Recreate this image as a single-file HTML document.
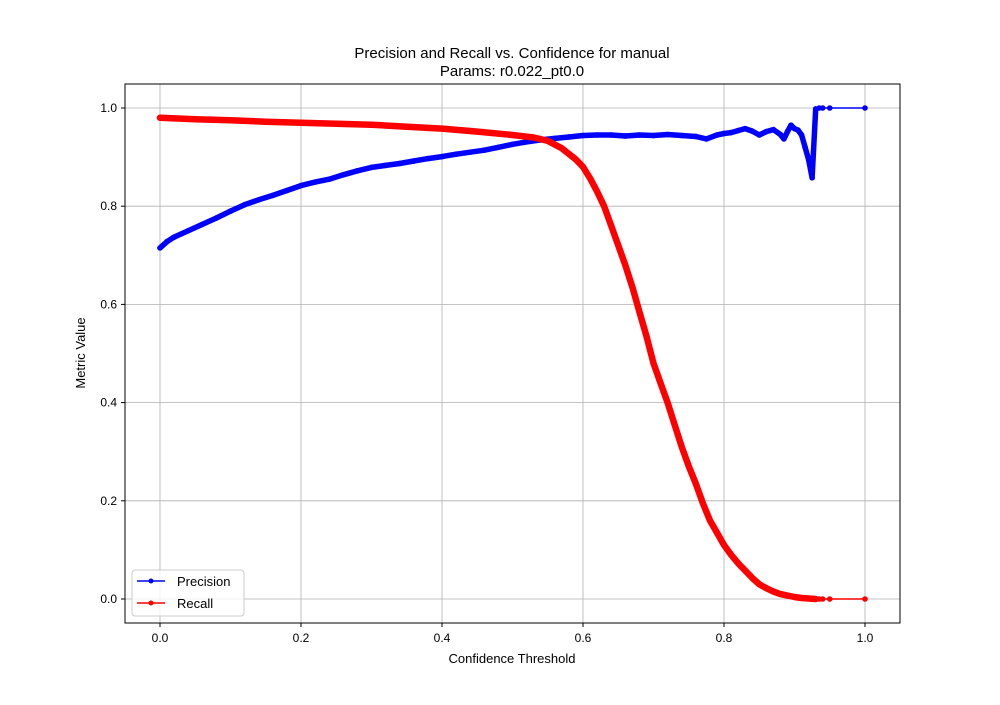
<!DOCTYPE html>
<html><head><meta charset="utf-8"><style>
body{margin:0;background:#fff;}
svg{font-family:"Liberation Sans","DejaVu Sans",sans-serif;}
</style></head><body>
<svg id="chart" width="1000" height="700" xmlns="http://www.w3.org/2000/svg">
<rect width="1000" height="700" fill="#fff"/>
<text x="512" y="58" text-anchor="middle" font-size="15">Precision and Recall vs. Confidence for manual</text>
<text x="512" y="76" text-anchor="middle" font-size="15">Params: r0.022_pt0.0</text>
<g id="grid"></g><g id="ticks"></g><g id="series"></g>
<rect x="125" y="84" width="775" height="539" fill="none" stroke="#000" stroke-width="1"/>
<text x="512" y="663" text-anchor="middle" font-size="13">Confidence Threshold</text>
<text transform="translate(85,353) rotate(-90)" text-anchor="middle" font-size="13">Metric Value</text>
<g>
<rect x="132" y="570" width="112" height="46" rx="3" fill="#fff" fill-opacity="0.8" stroke="#ccc"/>
<g><line x1="137" y1="581" x2="165" y2="581" stroke="#0000ff" stroke-width="1.5"/><circle cx="151" cy="581" r="2.5" fill="#0000ff"/><text x="177" y="586" font-size="13">Precision</text></g>
<g><line x1="137" y1="603" x2="165" y2="603" stroke="#ff0000" stroke-width="1.5"/><circle cx="151" cy="603" r="2.5" fill="#ff0000"/><text x="177" y="608" font-size="13">Recall</text></g>
</g>
</svg>
<script>
const precX=[0,0.01,0.02,0.04,0.06,0.08,0.1,0.12,0.14,0.16,0.18,0.2,0.22,0.24,0.26,0.28,0.3,0.32,0.34,0.36,0.38,0.4,0.42,0.44,0.46,0.48,0.5,0.52,0.54,0.56,0.58,0.6,0.62,0.64,0.66,0.68,0.7,0.72,0.74,0.76,0.775,0.79,0.8,0.81,0.82,0.83,0.84,0.85,0.86,0.87,0.88,0.885,0.89,0.895,0.9,0.905,0.91,0.915,0.92,0.925,0.93,0.935,0.94,0.95,1.0];
const precY=[0.715,0.728,0.737,0.75,0.763,0.776,0.79,0.803,0.813,0.822,0.832,0.842,0.849,0.855,0.864,0.872,0.879,0.883,0.887,0.892,0.897,0.901,0.906,0.91,0.914,0.92,0.926,0.931,0.935,0.938,0.941,0.944,0.945,0.945,0.943,0.945,0.944,0.946,0.944,0.942,0.937,0.945,0.948,0.95,0.954,0.958,0.953,0.945,0.952,0.956,0.946,0.937,0.952,0.965,0.958,0.955,0.945,0.92,0.895,0.858,0.998,1.0,1.0,1.0,1.0];
const recX=[0,0.05,0.1,0.15,0.2,0.25,0.3,0.35,0.4,0.45,0.5,0.53,0.55,0.57,0.59,0.6,0.61,0.62,0.63,0.64,0.65,0.66,0.67,0.68,0.69,0.7,0.71,0.72,0.73,0.74,0.75,0.76,0.77,0.78,0.79,0.8,0.81,0.82,0.83,0.84,0.85,0.86,0.87,0.88,0.89,0.9,0.91,0.92,0.93,0.935,0.94,0.95,1.0];
const recY=[0.98,0.977,0.975,0.972,0.97,0.968,0.966,0.962,0.958,0.952,0.945,0.94,0.933,0.918,0.895,0.88,0.857,0.83,0.8,0.76,0.72,0.68,0.635,0.585,0.535,0.48,0.44,0.4,0.355,0.31,0.27,0.235,0.195,0.16,0.135,0.11,0.09,0.073,0.058,0.043,0.03,0.022,0.015,0.01,0.007,0.004,0.002,0.001,0,0,0,0,0];
const xTicks=[0,0.2,0.4,0.6,0.8,1.0];
const yTicks=[0,0.2,0.4,0.6,0.8,1.0];
const NS='http://www.w3.org/2000/svg';
const sx=v=>160+v*705, sy=v=>599-v*491;
function mk(tag,attrs,parent){const e=document.createElementNS(NS,tag);for(const k in attrs)e.setAttribute(k,attrs[k]);parent.appendChild(e);return e;}
const grid=document.getElementById('grid'),ticks=document.getElementById('ticks'),ser=document.getElementById('series');
xTicks.forEach(t=>{
 const g=mk('line',{x1:sx(t),x2:sx(t),y1:84,y2:623,stroke:'#b0b0b0','stroke-width':0.8},grid);
 
 
 mk('line',{x1:sx(t),x2:sx(t),y1:623,y2:627,stroke:'#000'},ticks);
 const tx=mk('text',{x:sx(t),y:642,'text-anchor':'middle','font-size':12},ticks);tx.textContent=t.toFixed(1);
 
 
});
yTicks.forEach(t=>{
 const g=mk('line',{x1:125,x2:900,y1:sy(t),y2:sy(t),stroke:'#b0b0b0','stroke-width':0.8},grid);
 
 
 mk('line',{x1:121,x2:125,y1:sy(t),y2:sy(t),stroke:'#000'},ticks);
 const tx=mk('text',{x:117,y:sy(t)+4,'text-anchor':'end','font-size':12},ticks);tx.textContent=t.toFixed(1);
 
 
});
function drawSeries(xs,ys,color,name,w){
 const g=mk('g',{},ser);
 
 
 let dense='',full='';
 xs.forEach((x,i)=>{const p=sx(x).toFixed(1)+','+sy(ys[i]).toFixed(1);full+=(i?'L':'M')+p;if(x<=0.93)dense+=(dense?'L':'M')+p;});
 mk('path',{d:dense,fill:'none',stroke:color,'stroke-width':w,'stroke-linejoin':'round','stroke-linecap':'round'},g);
 const l=mk('path',{d:full,fill:'none',stroke:color,'stroke-width':1.5},g);
 
 
 xs.forEach((x,i)=>{const c=mk('circle',{cx:sx(x),cy:sy(ys[i]),r:2.8,fill:color},g);
  
  });
}
drawSeries(precX,precY,'#0000ff','precision',5.5);
drawSeries(recX,recY,'#ff0000','recall',6.5);
</script>
</body></html>
